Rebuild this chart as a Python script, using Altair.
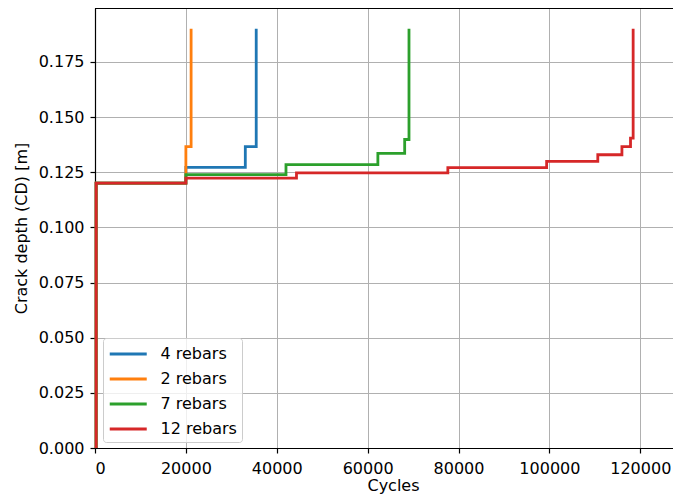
import altair as alt
import pandas as pd

series_names = ["4 rebars", "2 rebars", "7 rebars", "12 rebars"]
series_colors = ["#1f77b4", "#ff7f0e", "#2ca02c", "#d62728"]

blue_x = [250, 250, 20000, 33080, 35480]
blue_y = [0.0, 0.12, 0.1272, 0.1366, 0.19]

orange_x = [250, 250, 20000, 21150]
orange_y = [0.0, 0.12, 0.1366, 0.19]

green_x = [250, 250, 20000, 42030, 62250, 68150, 69100]
green_y = [0.0, 0.12, 0.1239, 0.1284, 0.1335, 0.1398, 0.19]

red_x = [250, 250, 20000, 44340, 77650, 99390, 110650, 115960, 117850, 118430]
red_y = [0.0, 0.12, 0.1223, 0.1247, 0.1271, 0.1299, 0.1329, 0.1366, 0.1404, 0.19]

x_ticks = [0, 20000, 40000, 60000, 80000, 100000, 120000]
y_ticks = [0.0, 0.025, 0.05, 0.075, 0.1, 0.125, 0.15, 0.175]

rows = []
for name, xs, ys in zip(series_names,
                        [blue_x, orange_x, green_x, red_x],
                        [blue_y, orange_y, green_y, red_y]):
    for i, (xv, yv) in enumerate(zip(xs, ys)):
        rows.append({"series": name, "cycles": xv, "cd": yv, "idx": i})
df = pd.DataFrame(rows)

W, H = 578, 440

lines = alt.Chart(df).mark_line(interpolate="step-after", strokeWidth=2.8).encode(
    x=alt.X("cycles:Q",
            scale=alt.Scale(domain=[0, 127200], nice=False, zero=False),
            axis=alt.Axis(values=x_ticks, format="d", title="Cycles",
                          titleX=298, titleY=42, titleBaseline="alphabetic",
                          labelPadding=7)),
    y=alt.Y("cd:Q",
            scale=alt.Scale(domain=[0, 0.1994], nice=False),
            axis=alt.Axis(values=y_ticks, format=".3f", title="Crack depth (CD) [m]",
                          titlePadding=9, labelPadding=6)),
    color=alt.Color("series:N",
                    scale=alt.Scale(domain=series_names, range=series_colors),
                    legend=alt.Legend(title=None, orient="none", legendX=8, legendY=330,
                                      symbolType="M-1,0H3", symbolSize=342,
                                      symbolStrokeWidth=3, labelFontSize=16,
                                      labelOffset=30.5, padding=5, rowPadding=6,
                                      fillColor="rgba(255,255,255,0.8)",
                                      strokeColor="#cccccc", cornerRadius=3)),
    order="idx:Q",
    detail="series:N",
)

top_spine = alt.Chart(df).mark_rule(color="black", strokeWidth=1).encode(
    x=alt.value(0), x2=alt.value(W), y=alt.value(0)
)

chart = alt.layer(lines, top_spine).properties(
    width=W, height=H,
    autosize=alt.AutoSizeParams(type="none"),
    padding={"left": 87, "top": 0, "right": 0, "bottom": 46},
).configure_view(stroke=None).configure_axis(
    labelFont="DejaVu Sans", titleFont="DejaVu Sans",
    labelFontSize=16, titleFontSize=16, titleFontWeight="normal",
    labelColor="black", titleColor="black",
    gridColor="#b0b0b0", gridWidth=1,
    domainColor="black", domainWidth=1.2,
    tickColor="black", tickSize=5, tickWidth=1.2,
).configure_legend(labelFont="DejaVu Sans", labelColor="black")

chart.save("out.html", embed_options={"renderer": "svg", "actions": False})
